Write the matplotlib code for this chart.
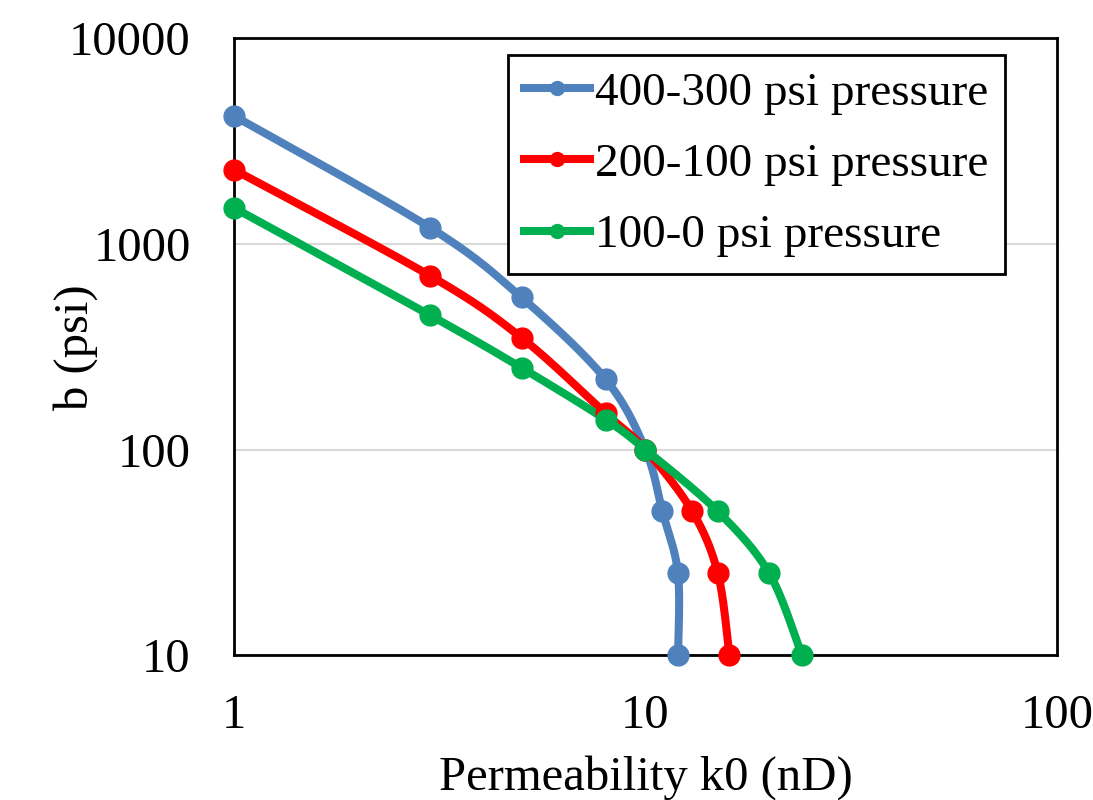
import numpy as np
import matplotlib.pyplot as plt

plt.rcParams['font.family'] = ['Liberation Serif', 'DejaVu Serif']

# permeability k0 (nD) and b (psi) for each pressure step
k_400_300 = [1, 3, 5, 8, 10, 11, 12, 12]
b_400_300 = [4200, 1200, 550, 220, 100, 50, 25, 10]

k_200_100 = [1, 3, 5, 8, 10, 13, 15, 16]
b_200_100 = [2300, 700, 350, 150, 100, 50, 25, 10]

k_100_0 = [1, 3, 5, 8, 10, 15, 20, 24]
b_100_0 = [1500, 450, 250, 140, 100, 50, 25, 10]

labels = ['400-300 psi pressure', '200-100 psi pressure', '100-0 psi pressure']
colors = ['#4F81BD', '#FF0000', '#00B050']


def smooth(x, y, n=30):
    # bezier smoothing through the points, done in log space
    # (scaled by the decade lengths so the curve looks even on screen)
    sx, sy = 2.0, 1.0
    X = np.log10(x) * sx
    Y = np.log10(y) * sy
    P = np.column_stack([X, Y])
    out = [P[0]]
    t = np.linspace(0, 1, n)[1:, None]
    for i in range(len(P) - 1):
        p0 = P[i - 1] if i > 0 else P[i]
        p3 = P[i + 2] if i + 2 < len(P) else P[i + 1]
        c1 = P[i] + (P[i + 1] - p0) / 6
        c2 = P[i + 1] - (p3 - P[i]) / 6
        seg = ((1 - t) ** 3 * P[i] + 3 * (1 - t) ** 2 * t * c1
               + 3 * (1 - t) * t ** 2 * c2 + t ** 3 * P[i + 1])
        out.extend(seg)
    out = np.array(out)
    return 10 ** (out[:, 0] / sx), 10 ** (out[:, 1] / sy)


fig = plt.figure(figsize=(10.93, 8), dpi=100)
ax = fig.add_axes([0.214, 0.181, 0.753, 0.771])

series = [(k_400_300, b_400_300), (k_200_100, b_200_100), (k_100_0, b_100_0)]
for (k, b), lab, c in zip(series, labels, colors):
    xs, ys = smooth(k, b)
    ax.plot(xs, ys, color=c, lw=5.8, solid_capstyle='round', clip_on=False, zorder=3)
    ax.plot(k, b, 'o', color=c, ms=15, clip_on=False, zorder=4)
    ax.plot([], [], '-o', color=c, lw=5.8, ms=10, label=lab)

ax.set_xscale('log')
ax.set_yscale('log')
ax.set_xlim(1, 100)
ax.set_ylim(10, 10000)
ax.set_xticks([1, 10, 100])
ax.set_xticklabels(['1', '10', '100'])
ax.set_yticks([10, 100, 1000, 10000])
ax.set_yticklabels(['10', '100', '1000', '10000'])
ax.minorticks_off()
ax.tick_params(axis='y', length=0, labelsize=35, pad=31)
ax.tick_params(axis='x', length=0, labelsize=35, pad=28)

ax.grid(axis='y', color='#D9D9D9', lw=1.5)
ax.set_axisbelow(True)
for s in ax.spines.values():
    s.set_linewidth(2)
    s.set_color('black')

ax.set_xlabel('Permeability k0 (nD)', fontsize=35, va='center')
ax.set_ylabel('b (psi)', fontsize=35, va='center')
ax.xaxis.set_label_coords(0.5, -0.198)
ax.yaxis.set_label_coords(-0.193, 0.5)

leg = ax.legend(loc='upper right', bbox_to_anchor=(0.937, 0.973), fontsize=34,
                frameon=True, fancybox=False, framealpha=1, handlelength=1.4,
                handletextpad=0.1, borderpad=0.35, labelspacing=0.6, borderaxespad=0)
leg.get_frame().set_edgecolor('black')
leg.get_frame().set_linewidth(2)

fig.savefig('out.png', dpi=100)
